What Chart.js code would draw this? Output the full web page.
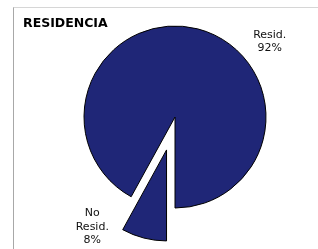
<!DOCTYPE html>
<html>
<head>
<meta charset="utf-8">
<script src="https://cdn.jsdelivr.net/npm/chart.js@4/dist/chart.umd.min.js"></script>
<style>
  html, body { margin: 0; padding: 0; background: #ffffff; }
  #wrap { position: relative; width: 318px; height: 249px; overflow: hidden; }
  #frame { position: absolute; left: 13px; top: 7px; width: 320px; height: 260px;
           border-left: 1px solid #a8a8a8; border-top: 1px solid #d6d6d6; pointer-events: none; }
  canvas { position: absolute; left: 0; top: 0; }
</style>
</head>
<body>
<div id="wrap">
  <canvas id="c" width="318" height="249"></canvas>
  <div id="frame"></div>
</div>
<script>
const title = 'RESIDENCIA';
const categories = ['No Resid.', 'Resid.'];
const labelLines = [['No', 'Resid.'], ['Resid.']];
const values = [8, 92];

// style: how far each slice is pulled out (px), and label placement
const explodePx = [34, 0];
const labelAngle = [217, 51.5];   // degrees clockwise from top
const labelDist = [1.51, 1.33];   // multiples of the radius

// pull slices out by a pure translation (keeps their radius equal to the others)
const explodePlugin = {
  id: 'explode',
  afterDatasetUpdate(chart, args) {
    const meta = args.meta;
    meta.data.forEach((arc, i) => {
      const d = explodePx[i] || 0;
      if (!d || arc._wrapped) return;
      const baseDraw = Object.getPrototypeOf(arc).draw;
      arc.draw = function (ctx, area) {
        const mid = (this.startAngle + this.endAngle) / 2;
        ctx.save();
        ctx.translate(Math.cos(mid) * d, Math.sin(mid) * d);
        baseDraw.call(this, ctx, area);
        ctx.restore();
      };
      arc._wrapped = true;
    });
  }
};

const labelPlugin = {
  id: 'pieLabels',
  afterDatasetsDraw(chart) {
    const ctx = chart.ctx;
    const meta = chart.getDatasetMeta(0);
    const total = values.reduce((a, b) => a + b, 0);
    ctx.save();
    ctx.fillStyle = '#111111';
    ctx.font = '11px "DejaVu Sans"';
    ctx.textAlign = 'center';
    ctx.textBaseline = 'middle';
    meta.data.forEach((arc, i) => {
      const r = arc.outerRadius;
      const a = labelAngle[i] * Math.PI / 180;
      const cx = arc.x + Math.sin(a) * r * labelDist[i];
      const cy = arc.y - Math.cos(a) * r * labelDist[i];
      const lines = labelLines[i].concat([Math.round(values[i] / total * 100) + '%']);
      const lh = 13.5;
      const y0 = cy - (lines.length - 1) * lh / 2;
      lines.forEach((t, k) => ctx.fillText(t, cx, y0 + k * lh));
    });
    ctx.font = 'bold 12.5px "DejaVu Sans"';
    ctx.textAlign = 'left';
    ctx.textBaseline = 'alphabetic';
    ctx.fillStyle = '#000000';
    ctx.fillText(title, 23, 27);
    ctx.restore();
  }
};

new Chart(document.getElementById('c'), {
  type: 'pie',
  data: {
    labels: categories,
    datasets: [{
      data: values,
      backgroundColor: '#1f2677',
      borderColor: '#000000',
      borderWidth: 1
    }]
  },
  options: {
    responsive: false,
    animation: false,
    rotation: 180,
    radius: 91,
    layout: { padding: { left: 32, right: 0, top: 0, bottom: 15 } },
    plugins: { legend: { display: false }, tooltip: { enabled: false }, title: { display: false } }
  },
  plugins: [explodePlugin, labelPlugin]
});
</script>
</body>
</html>
